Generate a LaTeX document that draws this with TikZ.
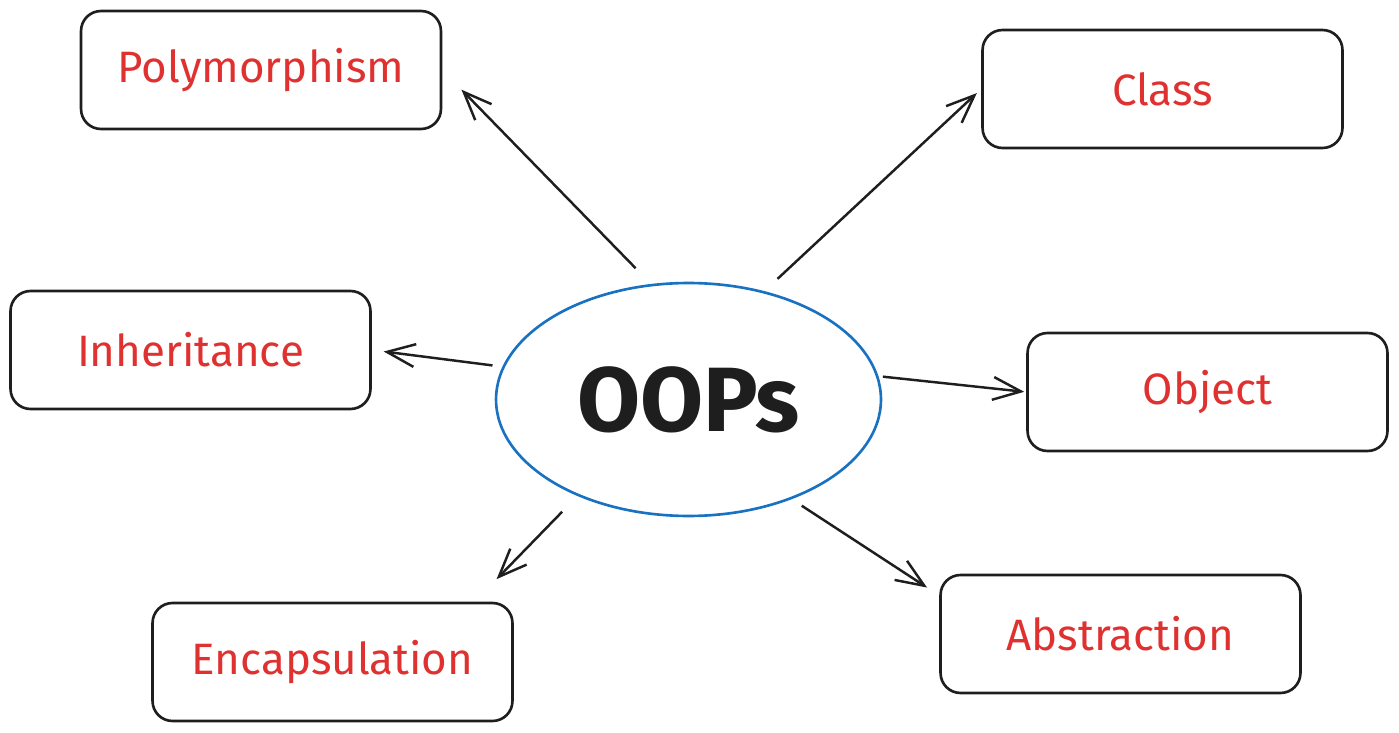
\documentclass[tikz,border=0pt]{standalone}
\usepackage{fontspec}
\setmainfont{Fira Sans}
\usetikzlibrary{shapes.geometric,arrows.meta}
\definecolor{inkred}{HTML}{E03131}
\definecolor{inkblue}{HTML}{1971C2}
\definecolor{ink}{HTML}{1E1E1E}
\tikzset{
  concept/.style={draw=ink, line width=1.5pt, rounded corners=0.4cm,
    minimum width=7.2cm, minimum height=2.36cm, text=inkred,
    font=\fontsize{25}{30}\selectfont},
  core/.style={ellipse, draw=inkblue, line width=1.5pt, minimum width=7.7cm,
    minimum height=4.66cm, inner sep=0pt, text=ink,
    font=\fontsize{52}{60}\selectfont\bfseries},
  link/.style={draw=ink, line width=1.4pt, -{Straight Barb[length=16pt,width=13pt]}}
}
\begin{document}
\begin{tikzpicture}[x=0.02cm, y=-0.02cm]
      \useasboundingbox (0,0) rectangle (1399,733);
      \node[core] (oops) at (688.5,399.5) {OOPs};
      \node[concept] (poly) at (261,70) {Polymorphism};
      \node[concept] (class) at (1162.5,89) {Class};
      \node[concept] (inh) at (190.5,350) {Inheritance};
      \node[concept] (obj) at (1207.5,392) {Object};
      \node[concept] (enc) at (332.5,662) {Encapsulation};
      \node[concept] (abs) at (1120.5,634) {Abstraction};
      \begin{scope}[link]
        \draw[shorten <=0.44cm, shorten >=0.55cm] (oops.108) to (poly.east);
        \draw[shorten <=0.36cm, shorten >=0.12cm] (oops.55.5) to (class.west);
        \draw[shorten <=0.2cm, shorten >=0.24cm] (oops.170.8) to (inh.east);
        \draw[shorten <=0.09cm, shorten >=0.04cm] (oops.7.5) to (obj.west);
        \draw[shorten <=0.44cm, shorten >=0.63cm] (oops.221.7) to (enc.23.2);
        \draw[shorten <=0.24cm, shorten >=0.29cm] (oops.316.7) to (abs.168.8);
      \end{scope}
    \end{tikzpicture}
\end{document}
